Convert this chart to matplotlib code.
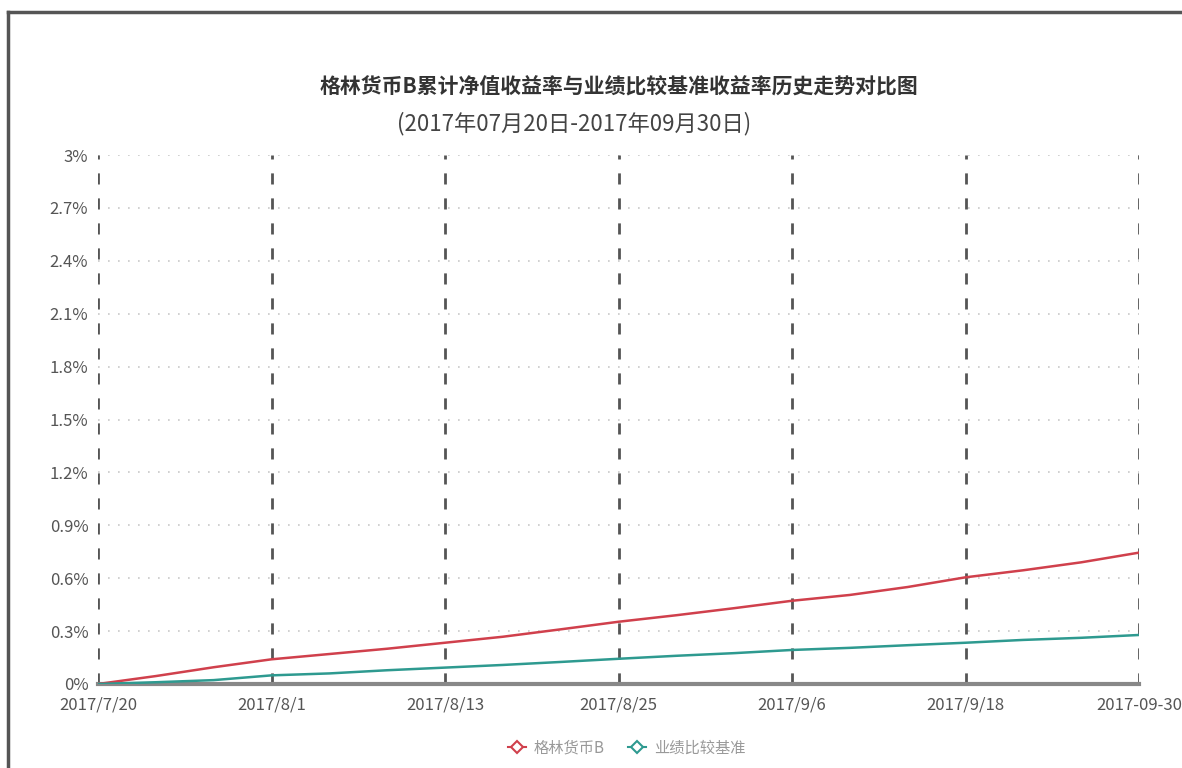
import matplotlib.pyplot as plt
import matplotlib.dates as mdates
from matplotlib.lines import Line2D
from matplotlib.ticker import FuncFormatter
import numpy as np
import pandas as pd

plt.rcParams['font.family'] = ['Noto Sans CJK SC', 'DejaVu Sans']

# data (percent)
dates = ['2017-07-20', '2017-07-24', '2017-07-28', '2017-08-01', '2017-08-05',
         '2017-08-09', '2017-08-13', '2017-08-17', '2017-08-21', '2017-08-25',
         '2017-08-29', '2017-09-02', '2017-09-06', '2017-09-10', '2017-09-14',
         '2017-09-18', '2017-09-22', '2017-09-26', '2017-09-30']
fund_b = [0.0, 0.045, 0.095, 0.140, 0.170, 0.200, 0.234, 0.268, 0.310, 0.353,
          0.390, 0.430, 0.472, 0.505, 0.550, 0.605, 0.645, 0.690, 0.745]
benchmark = [0.0, 0.010, 0.022, 0.049, 0.060, 0.078, 0.093, 0.108, 0.125, 0.143,
             0.160, 0.175, 0.193, 0.205, 0.220, 0.234, 0.250, 0.262, 0.278]

tick_dates = ['2017-07-20', '2017-08-01', '2017-08-13', '2017-08-25',
              '2017-09-06', '2017-09-18', '2017-09-30']
tick_labels = ['2017/7/20', '2017/8/1', '2017/8/13', '2017/8/25',
               '2017/9/6', '2017/9/18', '2017-09-30']
y_ticks = [0, 0.3, 0.6, 0.9, 1.2, 1.5, 1.8, 2.1, 2.4, 2.7, 3.0]

series_names = ['格林货币B', '业绩比较基准']
colors = ['#d0404c', '#2e9a90']

title = '格林货币B累计净值收益率与业绩比较基准收益率历史走势对比图'
subtitle = '(2017年07月20日-2017年09月30日)'

x = pd.to_datetime(dates)
xt = pd.to_datetime(tick_dates)

fig = plt.figure(figsize=(11.82, 7.68), dpi=100)
ax = fig.add_axes([98 / 1182, 1 - 684 / 768, (1139 - 98) / 1182, (684 - 155) / 768])

# horizontal dotted grid
for yv in y_ticks[1:]:
    ax.axhline(yv, color='#c8c8c8', lw=1.2, ls=(0, (1, 5)), zorder=1)
# vertical dashed lines at each date tick
for d in xt:
    ax.axvline(d, color='#555555', lw=2, ls=(0, (4, 5)), zorder=2)

ax.plot(x, fund_b, color=colors[0], lw=1.8, zorder=4)
ax.plot(x, benchmark, color=colors[1], lw=1.8, zorder=4)

ax.set_xlim(xt[0], xt[-1])
ax.set_ylim(0, 3.0)
ax.set_yticks(y_ticks)
ax.yaxis.set_major_formatter(FuncFormatter(lambda v, p: '%g%%' % round(v, 1)))
ax.set_xticks(xt)
ax.set_xticklabels(tick_labels)
ax.tick_params(axis='both', length=0, labelsize=12, colors='#555555')
ax.tick_params(axis='x', pad=9)
ax.tick_params(axis='y', pad=7)

for s in ['top', 'right', 'left']:
    ax.spines[s].set_visible(False)
ax.spines['bottom'].set_color('#888888')
ax.spines['bottom'].set_linewidth(3)

mid = (98 + 1139) / 2 / 1182
fig.text(mid, 1 - 87 / 768, title, ha='center', va='center',
         fontsize=15, fontweight='bold', color='#333333')
fig.text(574 / 1182, 1 - 124 / 768, subtitle, ha='center', va='center',
         fontsize=16, color='#444444')

handles = [Line2D([], [], color=c, lw=1.5, marker='D', markersize=6,
                  markerfacecolor='white', markeredgewidth=1.5) for c in colors]
fig.legend(handles, series_names, loc='center', bbox_to_anchor=(0.53, 1 - 748 / 768),
           ncol=2, frameon=False, fontsize=11, labelcolor='#999999',
           handlelength=1.2, columnspacing=1.5, handletextpad=0.5)

# outer frame (top and left edges visible)
fig.add_artist(Line2D([8 / 1182, 8 / 1182], [0, 1 - 12 / 768], transform=fig.transFigure,
                      color='#555555', lw=2.5))
fig.add_artist(Line2D([8 / 1182, 1], [1 - 12 / 768, 1 - 12 / 768], transform=fig.transFigure,
                      color='#555555', lw=2.5))

fig.savefig('out.png', dpi=100)
